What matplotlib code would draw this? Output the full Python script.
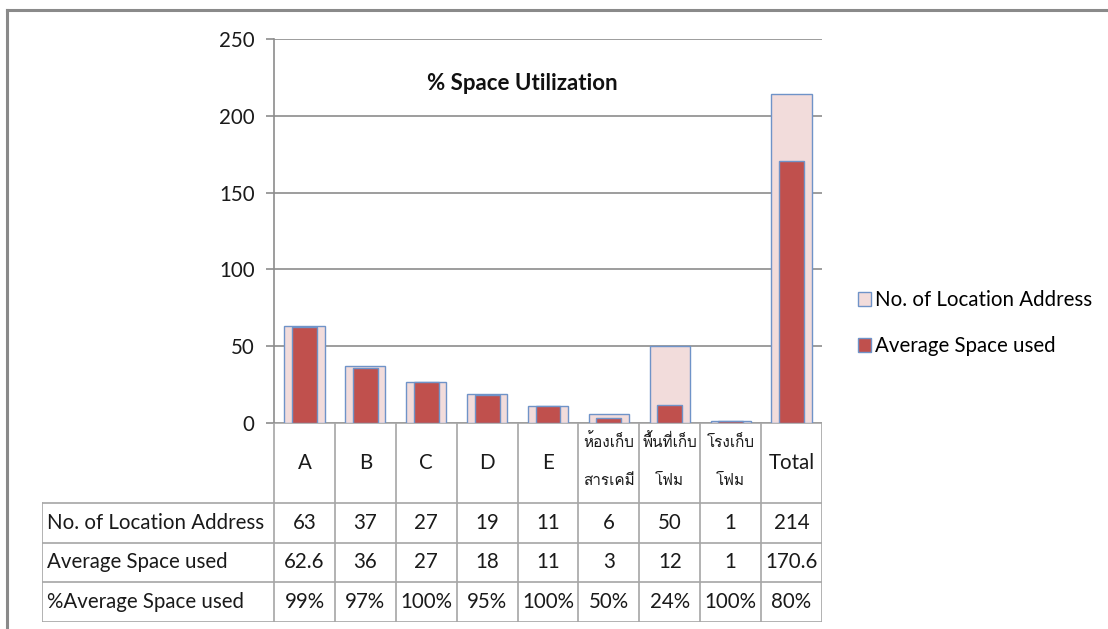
import matplotlib
matplotlib.use("Agg")
import matplotlib.pyplot as plt
from matplotlib import font_manager
from matplotlib.ft2font import FT2Font
from matplotlib.patches import Patch
from matplotlib.lines import Line2D

# ---- data ----
categories = ["A", "B", "C", "D", "E", "ห้องเก็บ\nสารเคมี", "พื้นที่เก็บ\nโฟม", "โรงเก็บ\nโฟม", "Total"]
location_address = [63, 37, 27, 19, 11, 6, 50, 1, 214]
avg_space_used = [62.6, 36, 27, 18, 11, 3, 12, 1, 170.6]
pct_labels = ["99%", "97%", "100%", "95%", "100%", "50%", "24%", "100%", "80%"]
row_names = ["No. of Location Address", "Average Space used", "%Average Space used"]
y_ticks = [0, 50, 100, 150, 200, 250]
title = "% Space Utilization"

# ---- fonts ----
BASE = "Lato"
FS = 14.8


def find_thai_font():
    for fe in font_manager.fontManager.ttflist:
        try:
            if 0x0E01 in FT2Font(fe.fname).get_charmap():
                return fe.name
        except Exception:
            continue
    return None


thai = find_thai_font()
label_family = [thai, BASE] if thai else [BASE]
plt.rcParams["font.family"] = [BASE, "DejaVu Sans"]

W, H = 1108, 629
fig = plt.figure(figsize=(W / 100, H / 100), dpi=100)


def fx(px):
    return px / W


def fy(py):
    return 1 - py / H


GRID = "#8c8c8c"
TABLE = "#a6a6a6"
PINK = "#F2DCDB"
RED = "#C0504D"
EDGE = "#6F93C8"
TEXT = "#1a1a1a"

# ---- plot area ----
x0, x1, ytop, ybot = 274, 822, 39, 423
ax = fig.add_axes([fx(x0), fy(ybot), fx(x1) - fx(x0), fy(ytop) - fy(ybot)])
n = len(categories)
xs = list(range(n))
ax.set_xlim(-0.5, n - 0.5)
ax.set_ylim(0, 250)
ax.set_yticks(y_ticks)
ax.set_xticks([])
ax.tick_params(axis="y", length=6, width=1.2, color=GRID, labelsize=FS,
               pad=8, labelcolor=TEXT)
for s in ["top", "right", "bottom"]:
    ax.spines[s].set_visible(False)
ax.spines["left"].set_color(GRID)
ax.spines["left"].set_linewidth(1.2)
ax.yaxis.grid(True, color=GRID, linewidth=1.2)
ax.set_axisbelow(True)

ax.bar(xs, location_address, width=0.66, color=PINK, edgecolor=EDGE,
       linewidth=1.0, zorder=2)
ax.bar(xs, avg_space_used, width=0.41, color=RED, edgecolor=EDGE,
       linewidth=1.0, zorder=3)
ax.text(0.453, 0.885, title, transform=ax.transAxes, ha="center", va="center",
        fontsize=16, fontweight="bold", color="#111111")

# ---- data table below the axis ----
unit = (x1 - x0) / n
tleft_px, tbot_px = 42, 622
tleft = -0.5 - (x0 - tleft_px) / unit
tax = fig.add_axes([fx(tleft_px), fy(tbot_px), fx(x1) - fx(tleft_px), fy(ybot) - fy(tbot_px)])
tax.set_xlim(tleft, n - 0.5)
tax.set_ylim(tbot_px, ybot)
tax.axis("off")

row_tops = [503, 542.5, 582, 622]
for i in range(n + 1):
    tax.add_line(Line2D([i - 0.5, i - 0.5], [ybot, tbot_px], color=TABLE, lw=1.2))
tax.add_line(Line2D([tleft, tleft], [row_tops[0], tbot_px], color=TABLE, lw=1.2))
tax.add_line(Line2D([-0.5, n - 0.5], [ybot, ybot], color=TABLE, lw=1.2))
for yy in row_tops:
    tax.add_line(Line2D([tleft, n - 0.5], [yy, yy], color=TABLE, lw=1.2))

cat_mid = (ybot + row_tops[0]) / 2
for i, c in enumerate(categories):
    if "\n" in c:
        top, bottom = c.split("\n")
        tax.text(i, cat_mid - 21, top, ha="center", va="center", fontsize=11,
                 family=label_family, color=TEXT)
        tax.text(i, cat_mid + 18, bottom, ha="center", va="center", fontsize=11,
                 family=label_family, color=TEXT)
    else:
        tax.text(i, cat_mid, c, ha="center", va="center", fontsize=FS, color=TEXT)

rows = [[str(v) for v in location_address],
        [("%g" % v) for v in avg_space_used],
        pct_labels]
for r, (name, vals) in enumerate(zip(row_names, rows)):
    yc = (row_tops[r] + row_tops[r + 1]) / 2
    tax.text(tleft + 0.08, yc, name, ha="left", va="center", fontsize=FS, color=TEXT)
    for i, v in enumerate(vals):
        tax.text(i, yc, v, ha="center", va="center", fontsize=FS, color=TEXT)

# ---- legend ----
handles = [Patch(facecolor=PINK, edgecolor=EDGE, linewidth=1.0),
           Patch(facecolor=RED, edgecolor=EDGE, linewidth=1.0)]
fig.legend(handles, row_names[:2], loc="center left",
           bbox_to_anchor=(fx(858), fy(323)), frameon=False, fontsize=FS,
           handlelength=0.65, handleheight=0.65, handletextpad=0.2,
           labelspacing=1.27, borderaxespad=0, borderpad=0)

# ---- chart border ----
fig.add_artist(Line2D([fx(7), 1], [fy(10), fy(10)], color="#8a8a8a", lw=2.2))
fig.add_artist(Line2D([fx(7), fx(7)], [fy(10), 0], color="#8a8a8a", lw=2.2))

fig.savefig("out.png", dpi=100)
